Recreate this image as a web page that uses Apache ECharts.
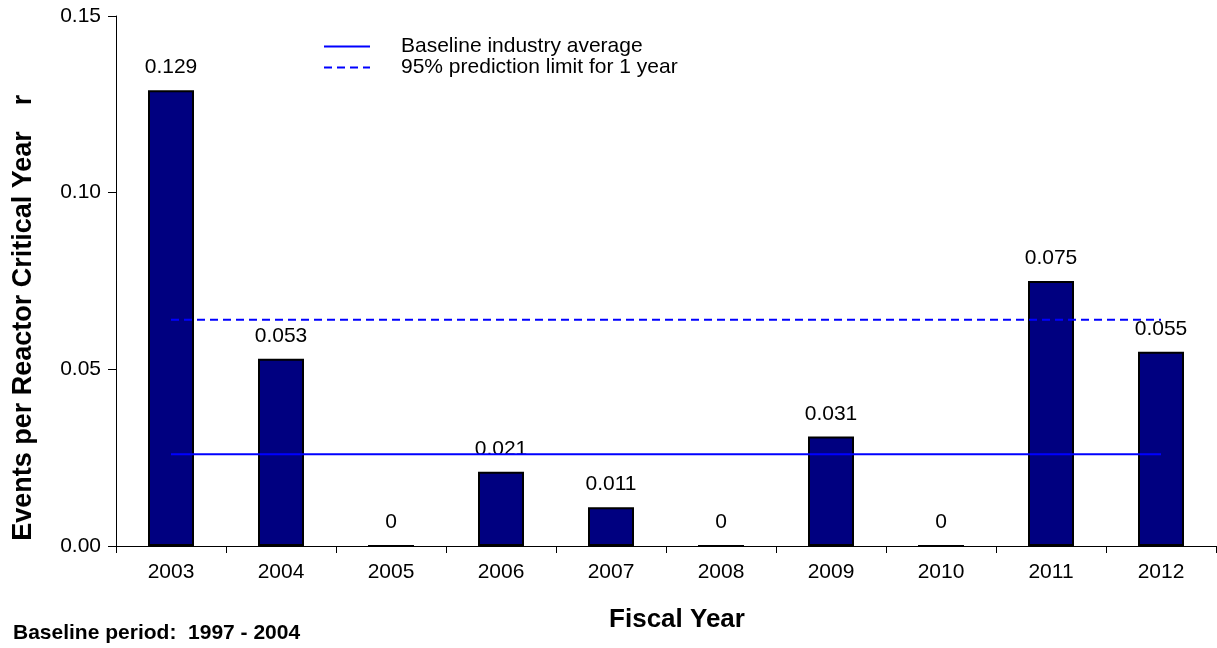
<!DOCTYPE html>
<html>
<head>
<meta charset="utf-8">
<script src="https://cdn.jsdelivr.net/npm/echarts@6/dist/echarts.min.js"></script>
<style>
    html, body { margin: 0; padding: 0; background: #fff; }
    #chart { width: 1217px; height: 648px; }
</style>
</head>
<body>
<div id="chart"></div>
<script>
// fiscal years and events per reactor critical year
const years = ['2003', '2004', '2005', '2006', '2007', '2008', '2009', '2010', '2011', '2012'];
const rates = [0.129, 0.053, 0, 0.021, 0.011, 0, 0.031, 0, 0.075, 0.055];
const baselineAvg = 0.026;
const predLimit = 0.064;
const yTicks = ['0.00', '0.05', '0.10', '0.15'];

const font = 'Arial, "Liberation Sans", sans-serif';

function flat(v) {
    return years.map(function () { return v; });
}

const chart = echarts.init(document.querySelector('#chart'));
chart.setOption({
    animation: false,
    textStyle: { fontFamily: font },
    grid: {
        left: 116,
        right: 1,
        top: 16,
        bottom: 102
    },
    legend: {
        orient: 'vertical',
        left: 323,
        top: 36,
        itemWidth: 46,
        itemHeight: 10,
        itemGap: 0,
        padding: 0,
        itemStyle: { opacity: 0 },
        textStyle: {
            fontSize: 21,
            color: '#000',
            fontFamily: font,
            padding: [6, 0, 0, 26]
        },
        data: ['Baseline industry average', '95% prediction limit for 1 year']
    },
    xAxis: {
        type: 'category',
        data: years,
        axisLine: { lineStyle: { color: '#000', width: 1 } },
        axisTick: { show: true, length: 7, lineStyle: { color: '#000' } },
        axisLabel: { fontSize: 21, color: '#000', margin: 16 }
    },
    yAxis: {
        type: 'value',
        min: 0,
        max: 0.15,
        interval: 0.05,
        splitLine: { show: false },
        axisLine: { show: true, lineStyle: { color: '#000', width: 1 } },
        axisTick: { show: true, length: 8, lineStyle: { color: '#000' } },
        axisLabel: {
            fontSize: 21,
            color: '#000',
            margin: 15,
            formatter: function (v) {
                return yTicks[Math.round(v / 0.05)];
            }
        }
    },
    series: [
        {
            name: 'Events',
            type: 'bar',
            data: rates,
            barWidth: 46,
            itemStyle: { color: '#000080', borderColor: '#000', borderWidth: 2 },
            label: {
                show: true,
                position: 'top',
                distance: 12,
                fontSize: 21,
                color: '#000',
                formatter: function (p) { return String(p.value); }
            },
            z: 2
        },
        {
            name: 'Baseline industry average',
            type: 'line',
            data: flat(baselineAvg),
            symbol: 'none',
            lineStyle: { color: '#0000ff', width: 2, type: 'solid' },
            itemStyle: { color: '#0000ff' },
            z: 3
        },
        {
            name: '95% prediction limit for 1 year',
            type: 'line',
            data: flat(predLimit),
            symbol: 'none',
            lineStyle: { color: '#0000ff', width: 2, type: [8, 5] },
            itemStyle: { color: '#0000ff' },
            z: 3
        }
    ],
    graphic: [
        {
            type: 'text',
            x: 24,
            y: 336,
            rotation: Math.PI / 2,
            style: {
                text: 'Events per Reactor Critical Year',
                fontSize: 27,
                fontWeight: 'bold',
                fontFamily: font,
                fill: '#000',
                align: 'center',
                verticalAlign: 'middle'
            }
        },
        {
            type: 'text',
            x: 24,
            y: 100,
            rotation: Math.PI / 2,
            style: {
                text: 'r',
                fontSize: 27,
                fontWeight: 'bold',
                fontFamily: font,
                fill: '#000',
                align: 'center',
                verticalAlign: 'middle'
            }
        },
        {
            type: 'text',
            x: 677,
            y: 620,
            style: {
                text: 'Fiscal Year',
                fontSize: 26,
                fontWeight: 'bold',
                fontFamily: font,
                fill: '#000',
                align: 'center',
                verticalAlign: 'middle'
            }
        },
        {
            type: 'text',
            x: 13,
            y: 633,
            style: {
                text: 'Baseline period:  1997 - 2004',
                fontSize: 21,
                fontWeight: 'bold',
                fontFamily: font,
                fill: '#000',
                align: 'left',
                verticalAlign: 'middle'
            }
        }
    ]
});
</script>
</body>
</html>
